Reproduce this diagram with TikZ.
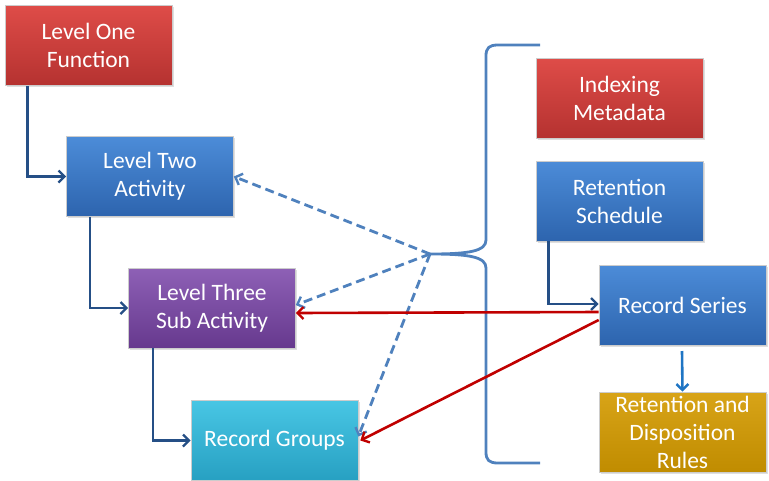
\documentclass[tikz,border=0pt]{standalone}
\usepackage{fontspec}
\setmainfont{Carlito}
\usetikzlibrary{arrows.meta,shadows}
\definecolor{redT}{HTML}{DE4C48}\definecolor{redB}{HTML}{B53230}
\definecolor{bluT}{HTML}{4C8CD8}\definecolor{bluB}{HTML}{2D64AE}
\definecolor{purT}{HTML}{8E60B6}\definecolor{purB}{HTML}{66398E}
\definecolor{cyaT}{HTML}{48C6E4}\definecolor{cyaB}{HTML}{27A0C2}
\definecolor{golT}{HTML}{D8A418}\definecolor{golB}{HTML}{C08C00}
\definecolor{navy}{HTML}{254F86}
\definecolor{dashblue}{HTML}{4F81BD}
\definecolor{redln}{HTML}{C00000}
\definecolor{arr}{HTML}{1F75C4}
\tikzset{
  box/.style={rectangle, minimum width=167pt, minimum height=80pt, inner sep=0pt,
    text=white, align=center, font=\fontsize{23.5}{28}\selectfont,
    draw=white!60!gray, line width=0.6pt, drop shadow={opacity=0.25,shadow xshift=1.5pt,shadow yshift=-1.5pt}},
  rbox/.style={box, top color=redT, bottom color=redB},
  bbox/.style={box, top color=bluT, bottom color=bluB},
  pbox/.style={box, top color=purT, bottom color=purB},
  cbox/.style={box, top color=cyaT, bottom color=cyaB},
  gbox/.style={box, top color=golT, bottom color=golB},
  tip/.style={-{Straight Barb[length=6pt,width=12pt,line width=2.4pt]}},
  elbow/.style={draw=navy, line width=2.6pt, tip},
  dsh/.style={draw=dashblue, line width=2.8pt, dash pattern=on 9pt off 5pt, tip},
  rln/.style={draw=redln, line width=2.6pt, tip},
}
\begin{document}
\begin{tikzpicture}[x=1pt,y=-1pt]
\useasboundingbox (0,0) rectangle (769,480);
\node[rbox] (l1) at (88.5,45.5) {Level One\\Function};
\node[bbox] (l2) at (150,176.5) {Level Two\\Activity};
\node[pbox] (l3) at (212,308) {Level Three\\Sub Activity};
\node[cbox] (rg) at (274.5,440.5) {Record Groups};
\node[rbox] (im) at (619.5,98.5) {Indexing\\Metadata};
\node[bbox] (rs) at (619.5,201) {Retention\\Schedule};
\node[bbox] (ser) at (682.5,305) {Record Series};
\node[gbox] (rul) at (682.5,432) {Retention and\\Disposition\\Rules};
% elbows
\draw[elbow] ([xshift=-61pt]l1.south) |- (l2.west);
\draw[elbow] ([xshift=-60pt]l2.south) |- (l3.west);
\draw[elbow] ([xshift=-59pt]l3.south) |- (rg.west);
\draw[elbow] ([xshift=-71pt]rs.south) |- ([yshift=1pt]ser.west);
\draw[draw=arr, line width=2.6pt, tip] (682,351) -- (rul.north);
% brace
\coordinate (tip) at (430,254);
\draw[dashblue, line width=2.8pt] (540,45) -- (498,45) .. controls (489,45) and (486,48) .. (486,56) -- (486,240) .. controls (486,251) and (470,254) .. (tip)
  .. controls (470,254) and (486,257) .. (486,268) -- (486,452) .. controls (486,460) and (489,463) .. (498,463) -- (540,463);
% dashed arrows
\draw[dsh] (tip) -- ([yshift=0pt]l2.east);
\draw[dsh] (tip) -- ([yshift=3pt]l3.east);
\draw[dsh] (tip) -- ([yshift=4pt]rg.east);
% red arrows
\draw[rln] ([yshift=-7pt]ser.west) -- ([yshift=-5pt]l3.east);
\draw[rln] ([yshift=-15pt]ser.west) -- ([xshift=2pt]rg.east);
\end{tikzpicture}
\end{document}
